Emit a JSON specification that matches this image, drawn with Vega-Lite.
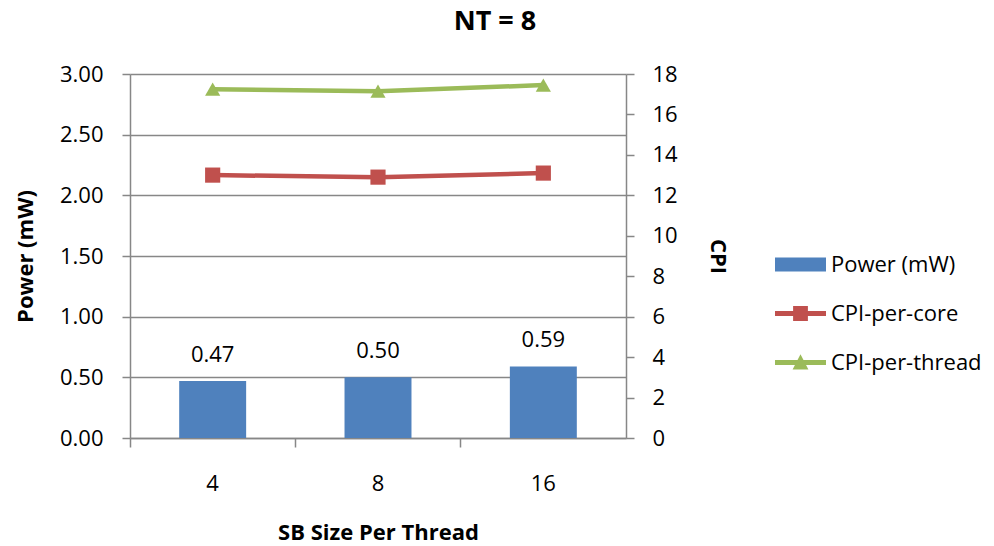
{
  "$schema": "https://vega.github.io/schema/vega-lite/v6.json",
  "width": 496,
  "height": 364,
  "autosize": {"type": "none"},
  "padding": {"left": 130, "top": 74, "right": 368, "bottom": 108},
  "background": "white",
  "title": {
    "text": "NT = 8",
    "font": "Open Sans",
    "fontSize": 27,
    "fontWeight": "bold",
    "color": "black",
    "anchor": "middle",
    "dx": 117,
    "offset": 27
  },
  "config": {
    "view": {"stroke": null},
    "font": "Open Sans",
    "axis": {
      "labelFont": "Open Sans",
      "labelFontSize": 22,
      "labelColor": "black",
      "titleFont": "Open Sans",
      "titleFontSize": 22,
      "titleFontWeight": "bold",
      "titleColor": "black",
      "domainColor": "#878787",
      "domainWidth": 1.5,
      "tickColor": "#878787",
      "tickWidth": 1.5,
      "gridColor": "#878787",
      "gridWidth": 1.4
    }
  },
  "datasets": {
    "power": [
      {"size": "4", "series": "Power (mW)", "power": 0.47},
      {"size": "8", "series": "Power (mW)", "power": 0.50},
      {"size": "16", "series": "Power (mW)", "power": 0.59}
    ],
    "cpi": [
      {"size": "4", "series": "CPI-per-core", "cpi": 13.0},
      {"size": "8", "series": "CPI-per-core", "cpi": 12.9},
      {"size": "16", "series": "CPI-per-core", "cpi": 13.1},
      {"size": "4", "series": "CPI-per-thread", "cpi": 17.25},
      {"size": "8", "series": "CPI-per-thread", "cpi": 17.15},
      {"size": "16", "series": "CPI-per-thread", "cpi": 17.45}
    ]
  },
  "encoding": {
    "x": {
      "field": "size",
      "type": "ordinal",
      "sort": ["4", "8", "16"],
      "scale": {"paddingInner": 0, "paddingOuter": 0},
      "axis": {
        "title": "SB Size Per Thread",
        "labelAngle": 0,
        "bandPosition": 0,
        "tickSize": 9,
        "labelPadding": 26,
        "titlePadding": 28
      }
    },
    "color": {
      "field": "series",
      "type": "nominal",
      "scale": {
        "domain": ["Power (mW)", "CPI-per-core", "CPI-per-thread"],
        "range": ["#4F81BD", "#C0504D", "#9BBB59"]
      },
      "legend": {
        "title": null,
        "orient": "none",
        "legendX": 645,
        "legendY": 165,
        "padding": 0,
        "symbolType": "square",
        "symbolSize": 2601,
        "symbolStrokeWidth": 0,
        "symbolOpacity": 1,
        "labelFont": "Open Sans",
        "labelFontSize": 22,
        "labelColor": "black",
        "labelOffset": 5,
        "rowPadding": 12,
        "encode": {
          "symbols": {
            "update": {
              "shape": {
                "signal": "datum.value === 'Power (mW)' ? 'M-1,-0.27L1,-0.27L1,0.27L-1,0.27Z' : (datum.value === 'CPI-per-core' ? 'M-1,-0.095L1,-0.095L1,0.095L-1,0.095Z M-0.29,-0.29L0.29,-0.29L0.29,0.29L-0.29,0.29Z' : 'M-1,-0.095L1,-0.095L1,0.095L-1,0.095Z M0,-0.32L0.31,0.27L-0.31,0.27Z')"
              },
              "fill": {"scale": "color", "field": "value"},
              "strokeWidth": {"value": 0}
            }
          }
        }
      }
    }
  },
  "layer": [
    {
      "data": {"name": "power"},
      "layer": [
        {
          "mark": {"type": "bar", "width": {"band": 0.405}},
          "encoding": {
            "y": {
              "field": "power",
              "type": "quantitative",
              "scale": {"domain": [0, 3], "nice": false},
              "axis": {
                "title": "Power (mW)",
                "values": [0, 0.5, 1, 1.5, 2, 2.5, 3],
                "format": ".2f",
                "grid": true,
                "tickSize": 8,
                "labelPadding": 19,
                "titlePadding": 22
              }
            }
          }
        },
        {
          "mark": {"type": "text", "baseline": "alphabetic", "dy": -19, "fontSize": 22, "font": "Open Sans"},
          "encoding": {
            "y": {"field": "power", "type": "quantitative"},
            "text": {"field": "power", "type": "quantitative", "format": ".2f"},
            "color": {"value": "black"}
          }
        }
      ]
    },
    {
      "data": {"name": "cpi"},
      "layer": [
        {
          "mark": {"type": "line", "strokeWidth": 4.5},
          "encoding": {
            "y": {
              "field": "cpi",
              "type": "quantitative",
              "scale": {"domain": [0, 18], "nice": false},
              "axis": {
                "title": "CPI",
                "orient": "right",
                "values": [0, 2, 4, 6, 8, 10, 12, 14, 16, 18],
                "grid": false,
                "tickSize": 8,
                "labelPadding": 18,
                "titlePadding": 28
              }
            }
          }
        },
        {
          "mark": {"type": "point", "filled": true, "opacity": 1, "size": 230},
          "encoding": {
            "y": {"field": "cpi", "type": "quantitative"},
            "shape": {
              "field": "series",
              "type": "nominal",
              "scale": {"domain": ["CPI-per-core", "CPI-per-thread"], "range": ["square", "triangle-up"]},
              "legend": null
            }
          }
        }
      ]
    }
  ],
  "resolve": {"scale": {"y": "independent"}}
}
